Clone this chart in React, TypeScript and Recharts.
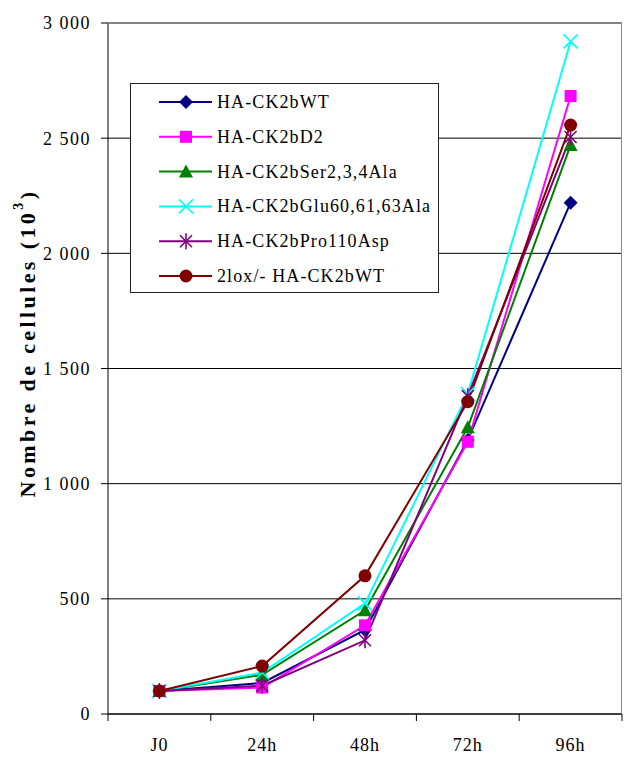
import { CartesianGrid, Legend, Line, LineChart, XAxis, YAxis } from "recharts";

const categories = ["J0", "24h", "48h", "72h", "96h"];
const wtValues = [100, 135, 365, 1190, 2220];
const d2Values = [100, 115, 385, 1182, 2683];
const serValues = [100, 170, 450, 1245, 2470];
const gluValues = [100, 180, 480, 1390, 2920];
const proValues = [100, 123, 320, 1380, 2505];
const loxValues = [100, 208, 600, 1356, 2557];
const yTicks = [0, 500, 1000, 1500, 2000, 2500, 3000];

const FONT = "'Liberation Serif', 'Times New Roman', serif";

type Shape = "diamond" | "square" | "triangle" | "cross" | "star" | "circle";

const series: { key: string; name: string; color: string; shape: Shape; values: number[] }[] = [
  { key: "wt", name: "HA-CK2bWT", color: "#000080", shape: "diamond", values: wtValues },
  { key: "d2", name: "HA-CK2bD2", color: "#ff00ff", shape: "square", values: d2Values },
  { key: "ser", name: "HA-CK2bSer2,3,4Ala", color: "#008000", shape: "triangle", values: serValues },
  { key: "glu", name: "HA-CK2bGlu60,61,63Ala", color: "#00ffff", shape: "cross", values: gluValues },
  { key: "pro", name: "HA-CK2bPro110Asp", color: "#800080", shape: "star", values: proValues },
  { key: "lox", name: "2lox/- HA-CK2bWT", color: "#800000", shape: "circle", values: loxValues },
];

const data = categories.map((label, i) => {
  const row: Record<string, string | number> = { label };
  series.forEach((s) => {
    row[s.key] = s.values[i];
  });
  return row;
});

const Marker = ({ cx, cy, shape, color }: { cx: number; cy: number; shape: Shape; color: string }) => {
  switch (shape) {
    case "diamond":
      return <polygon points={`${cx},${cy - 7} ${cx + 7},${cy} ${cx},${cy + 7} ${cx - 7},${cy}`} fill={color} />;
    case "square":
      return <rect x={cx - 6} y={cy - 6} width={12} height={12} fill={color} />;
    case "triangle":
      return <polygon points={`${cx},${cy - 7} ${cx + 7},${cy + 6} ${cx - 7},${cy + 6}`} fill={color} />;
    case "cross":
      return (
        <g stroke={color} strokeWidth={1.6}>
          <line x1={cx - 7} y1={cy - 7} x2={cx + 7} y2={cy + 7} />
          <line x1={cx - 7} y1={cy + 7} x2={cx + 7} y2={cy - 7} />
        </g>
      );
    case "star":
      return (
        <g stroke={color} strokeWidth={1.6}>
          <line x1={cx - 6} y1={cy - 6} x2={cx + 6} y2={cy + 6} />
          <line x1={cx - 6} y1={cy + 6} x2={cx + 6} y2={cy - 6} />
          <line x1={cx} y1={cy - 8} x2={cx} y2={cy + 8} />
        </g>
      );
    default:
      return <circle cx={cx} cy={cy} r={6.5} fill={color} />;
  }
};

const formatTick = (v: number) =>
  v >= 1000 ? `${Math.floor(v / 1000)} ${String(v % 1000).padStart(3, "0")}` : String(v);

const XTick = (props: any) => {
  const { x, y, payload, index } = props;
  const half = payload.offset || 0;
  const axisY = y - 8;
  return (
    <g>
      <line x1={x - half} y1={axisY} x2={x - half} y2={axisY + 7} stroke="#000" />
      {index === categories.length - 1 && (
        <line x1={x + half} y1={axisY} x2={x + half} y2={axisY + 7} stroke="#000" />
      )}
      <text x={x} y={axisY + 37} textAnchor="middle" fontSize={18} fontFamily={FONT} fill="#000" letterSpacing={1}>
        {payload.value}
      </text>
    </g>
  );
};

const YLabel = () => (
  <text
    x={27}
    y={343}
    transform="rotate(-90, 27, 343)"
    textAnchor="middle"
    dominantBaseline="central"
    fontSize={22}
    fontWeight="bold"
    fontFamily={FONT}
    fill="#000"
    letterSpacing={3.4}
  >
    Nombre de cellules (10
    <tspan dy={-9} fontSize={14}>3</tspan>
    <tspan dy={9}>)</tspan>
  </text>
);

const LegendBox = () => (
  <div style={{ width: 309, height: 210, border: "1px solid #222", boxSizing: "border-box", background: "#fff" }}>
    <svg width={307} height={208}>
      {series.map((s, i) => {
        const cy = 18 + i * 34.8;
        return (
          <g key={s.key}>
            <line x1={28} y1={cy} x2={81} y2={cy} stroke={s.color} strokeWidth={2} />
            <Marker cx={55} cy={cy} shape={s.shape} color={s.color} />
            <text x={86} y={cy + 6} fontSize={18} fontFamily={FONT} fill="#000" letterSpacing={1.1}>
              {s.name}
            </text>
          </g>
        );
      })}
    </svg>
  </div>
);

export default function App() {
  return (
    <div style={{ position: "absolute", left: 0, top: 0, width: 627, height: 758, background: "#fff", fontFamily: FONT }}>
      <LineChart width={627} height={758} data={data} margin={{ top: 23, right: 5, bottom: 0, left: 0 }}>
        <CartesianGrid vertical={false} stroke="#000" strokeWidth={1} />
        <XAxis
          dataKey="label"
          scale="band"
          height={44}
          tickLine={false}
          tickSize={6}
          tickMargin={2}
          axisLine={{ stroke: "#000" }}
          tick={<XTick />}
          interval={0}
        />
        <YAxis
          width={108}
          domain={[0, 3000]}
          ticks={yTicks}
          interval={0}
          tickSize={7}
          tickMargin={10}
          tickFormatter={formatTick}
          axisLine={{ stroke: "#000" }}
          tickLine={{ stroke: "#000" }}
          tick={{ fill: "#000", fontSize: 18, fontFamily: FONT, letterSpacing: 1.5 }}
          label={<YLabel />}
        />
        <Legend
          layout="vertical"
          align="center"
          verticalAlign="middle"
          content={<LegendBox />}
          wrapperStyle={{ left: 130, top: 83, width: 309, height: 210 }}
        />
        {series.map((s) => (
          <Line
            key={s.key}
            dataKey={s.key}
            name={s.name}
            type="linear"
            stroke={s.color}
            strokeWidth={2}
            isAnimationActive={false}
            dot={(p: any) => <Marker key={`${s.key}-${p.index}`} cx={p.cx} cy={p.cy} shape={s.shape} color={s.color} />}
            activeDot={false}
          />
        ))}
      </LineChart>
      <div
        style={{
          position: "absolute",
          left: 108,
          top: 23,
          width: 514,
          height: 691,
          borderTop: "1px solid #888",
          borderRight: "1px solid #888",
          boxSizing: "border-box",
          pointerEvents: "none",
        }}
      />
    </div>
  );
}
